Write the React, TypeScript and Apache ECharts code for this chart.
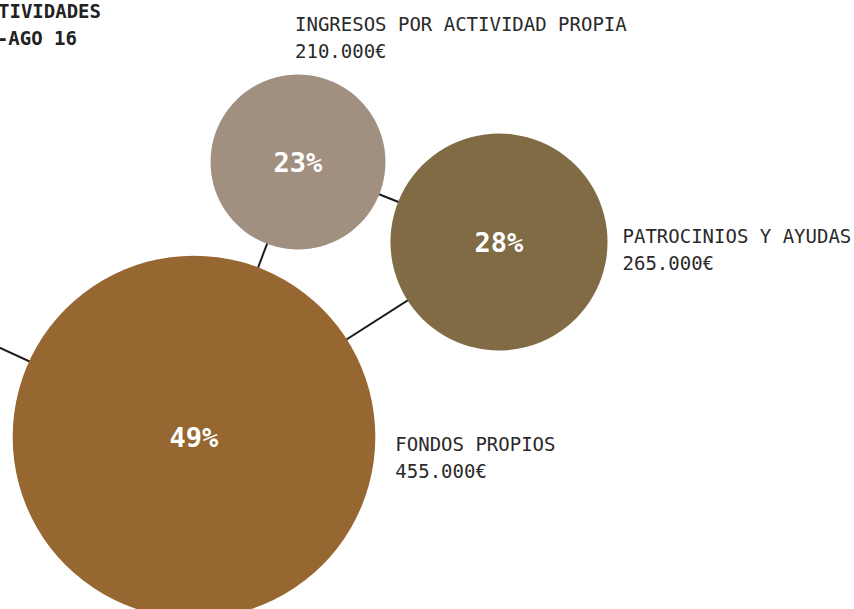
import React, { useEffect, useRef } from "react";
import * as echarts from "echarts";

// ---- data ----
const nodeNames = ["INGRESOS POR ACTIVIDAD PROPIA", "PATROCINIOS Y AYUDAS", "FONDOS PROPIOS"];
const amounts = [210000, 265000, 455000];
const hiddenNode = "ACTIVIDADES";
const linkPairs: [string, string][] = [
  ["INGRESOS POR ACTIVIDAD PROPIA", "PATROCINIOS Y AYUDAS"],
  ["INGRESOS POR ACTIVIDAD PROPIA", "FONDOS PROPIOS"],
  ["PATROCINIOS Y AYUDAS", "FONDOS PROPIOS"],
  ["FONDOS PROPIOS", "ACTIVIDADES"],
];
const titleLines = ["ACTIVIDADES", "SEP 15-AGO 16"];

// ---- layout & style (not data) ----
const nodePositions: [number, number][] = [
  [298, 162],
  [499, 242],
  [194, 437],
];
const hiddenPosition: [number, number] = [-200, 256];
const nodeColors = ["#A18F80", "#806B45", "#966730"];
const labelPlacement = [
  { position: "top", align: "left", verticalAlign: "bottom", distance: 10, offset: [-3, 0] },
  { position: "right", align: "left", verticalAlign: "middle", distance: 15, offset: [0, 7] },
  { position: "right", align: "left", verticalAlign: "middle", distance: 20, offset: [0, 20] },
];
const FONT = '"DejaVu Sans Mono", monospace';

const sizeScale = (v: number) => 14 + v / 1305;
const fmtAmount = (v: number) => String(v).replace(/\B(?=(\d{3})+(?!\d))/g, ".") + "€";

export default function App() {
  const ref = useRef<HTMLDivElement>(null);
  useEffect(() => {
    if (!ref.current) return;
    const chart = echarts.init(ref.current, null, { renderer: "svg" });
    const total = amounts.reduce((a, b) => a + b, 0);

    const graphNodes: any[] = nodeNames.map((name, i) => ({
      name,
      value: nodePositions[i],
      symbolSize: sizeScale(amounts[i]),
      itemStyle: { color: nodeColors[i] },
      label: {
        show: true,
        position: labelPlacement[i].position,
        align: labelPlacement[i].align,
        verticalAlign: labelPlacement[i].verticalAlign,
        distance: labelPlacement[i].distance,
        offset: labelPlacement[i].offset,
        formatter: () => `{n|${name}}\n{v|${fmtAmount(amounts[i])}}`,
        rich: {
          n: { fontFamily: FONT, fontSize: 19, lineHeight: 27, color: "#2a2a2a" },
          v: { fontFamily: FONT, fontSize: 19, lineHeight: 27, color: "#2a2a2a" },
        },
      },
    }));
    graphNodes.push({
      name: hiddenNode,
      value: hiddenPosition,
      symbolSize: 0,
      label: { show: false },
    });

    const pctData = nodeNames.map((name, i) => ({
      name,
      value: nodePositions[i],
      pct: Math.round((amounts[i] / total) * 100),
    }));

    chart.setOption({
      animation: false,
      backgroundColor: "#ffffff",
      grid: { left: 0, right: 0, top: 0, bottom: 0 },
      xAxis: { type: "value", min: 0, max: 854, show: false },
      yAxis: { type: "value", min: 0, max: 609, inverse: true, show: false },
      graphic: [
        {
          type: "text",
          x: 101,
          y: 11,
          style: {
            text: titleLines[0],
            textAlign: "right",
            textVerticalAlign: "middle",
            font: `bold 19px ${FONT}`,
            fill: "#222222",
          },
        },
        {
          type: "text",
          x: 77,
          y: 38,
          style: {
            text: titleLines[1],
            textAlign: "right",
            textVerticalAlign: "middle",
            font: `bold 19px ${FONT}`,
            fill: "#222222",
          },
        },
      ],
      series: [
        {
          type: "graph",
          coordinateSystem: "cartesian2d",
          layout: "none",
          symbol: "circle",
          data: graphNodes,
          links: linkPairs.map(([s, t]) => ({ source: s, target: t })),
          edgeSymbol: ["none", "none"],
          lineStyle: { color: "#1c1c1c", width: 2, opacity: 1, curveness: 0 },
          emphasis: { disabled: true },
          silent: true,
        },
        {
          type: "scatter",
          data: pctData,
          symbolSize: 0,
          itemStyle: { color: "#ffffff", opacity: 0 },
          silent: true,
          emphasis: { disabled: true },
          label: {
            show: true,
            position: "inside",
            formatter: (p: any) => `${p.data.pct}%`,
            fontFamily: FONT,
            fontWeight: "bold",
            fontSize: 27,
            color: "#ffffff",
            opacity: 1,
            textBorderWidth: 0,
          },
        },
      ],
    });
    return () => chart.dispose();
  }, []);
  return (
    <div
      ref={ref}
      style={{ position: "absolute", left: 0, top: 0, width: 854, height: 609 }}
    />
  );
}
